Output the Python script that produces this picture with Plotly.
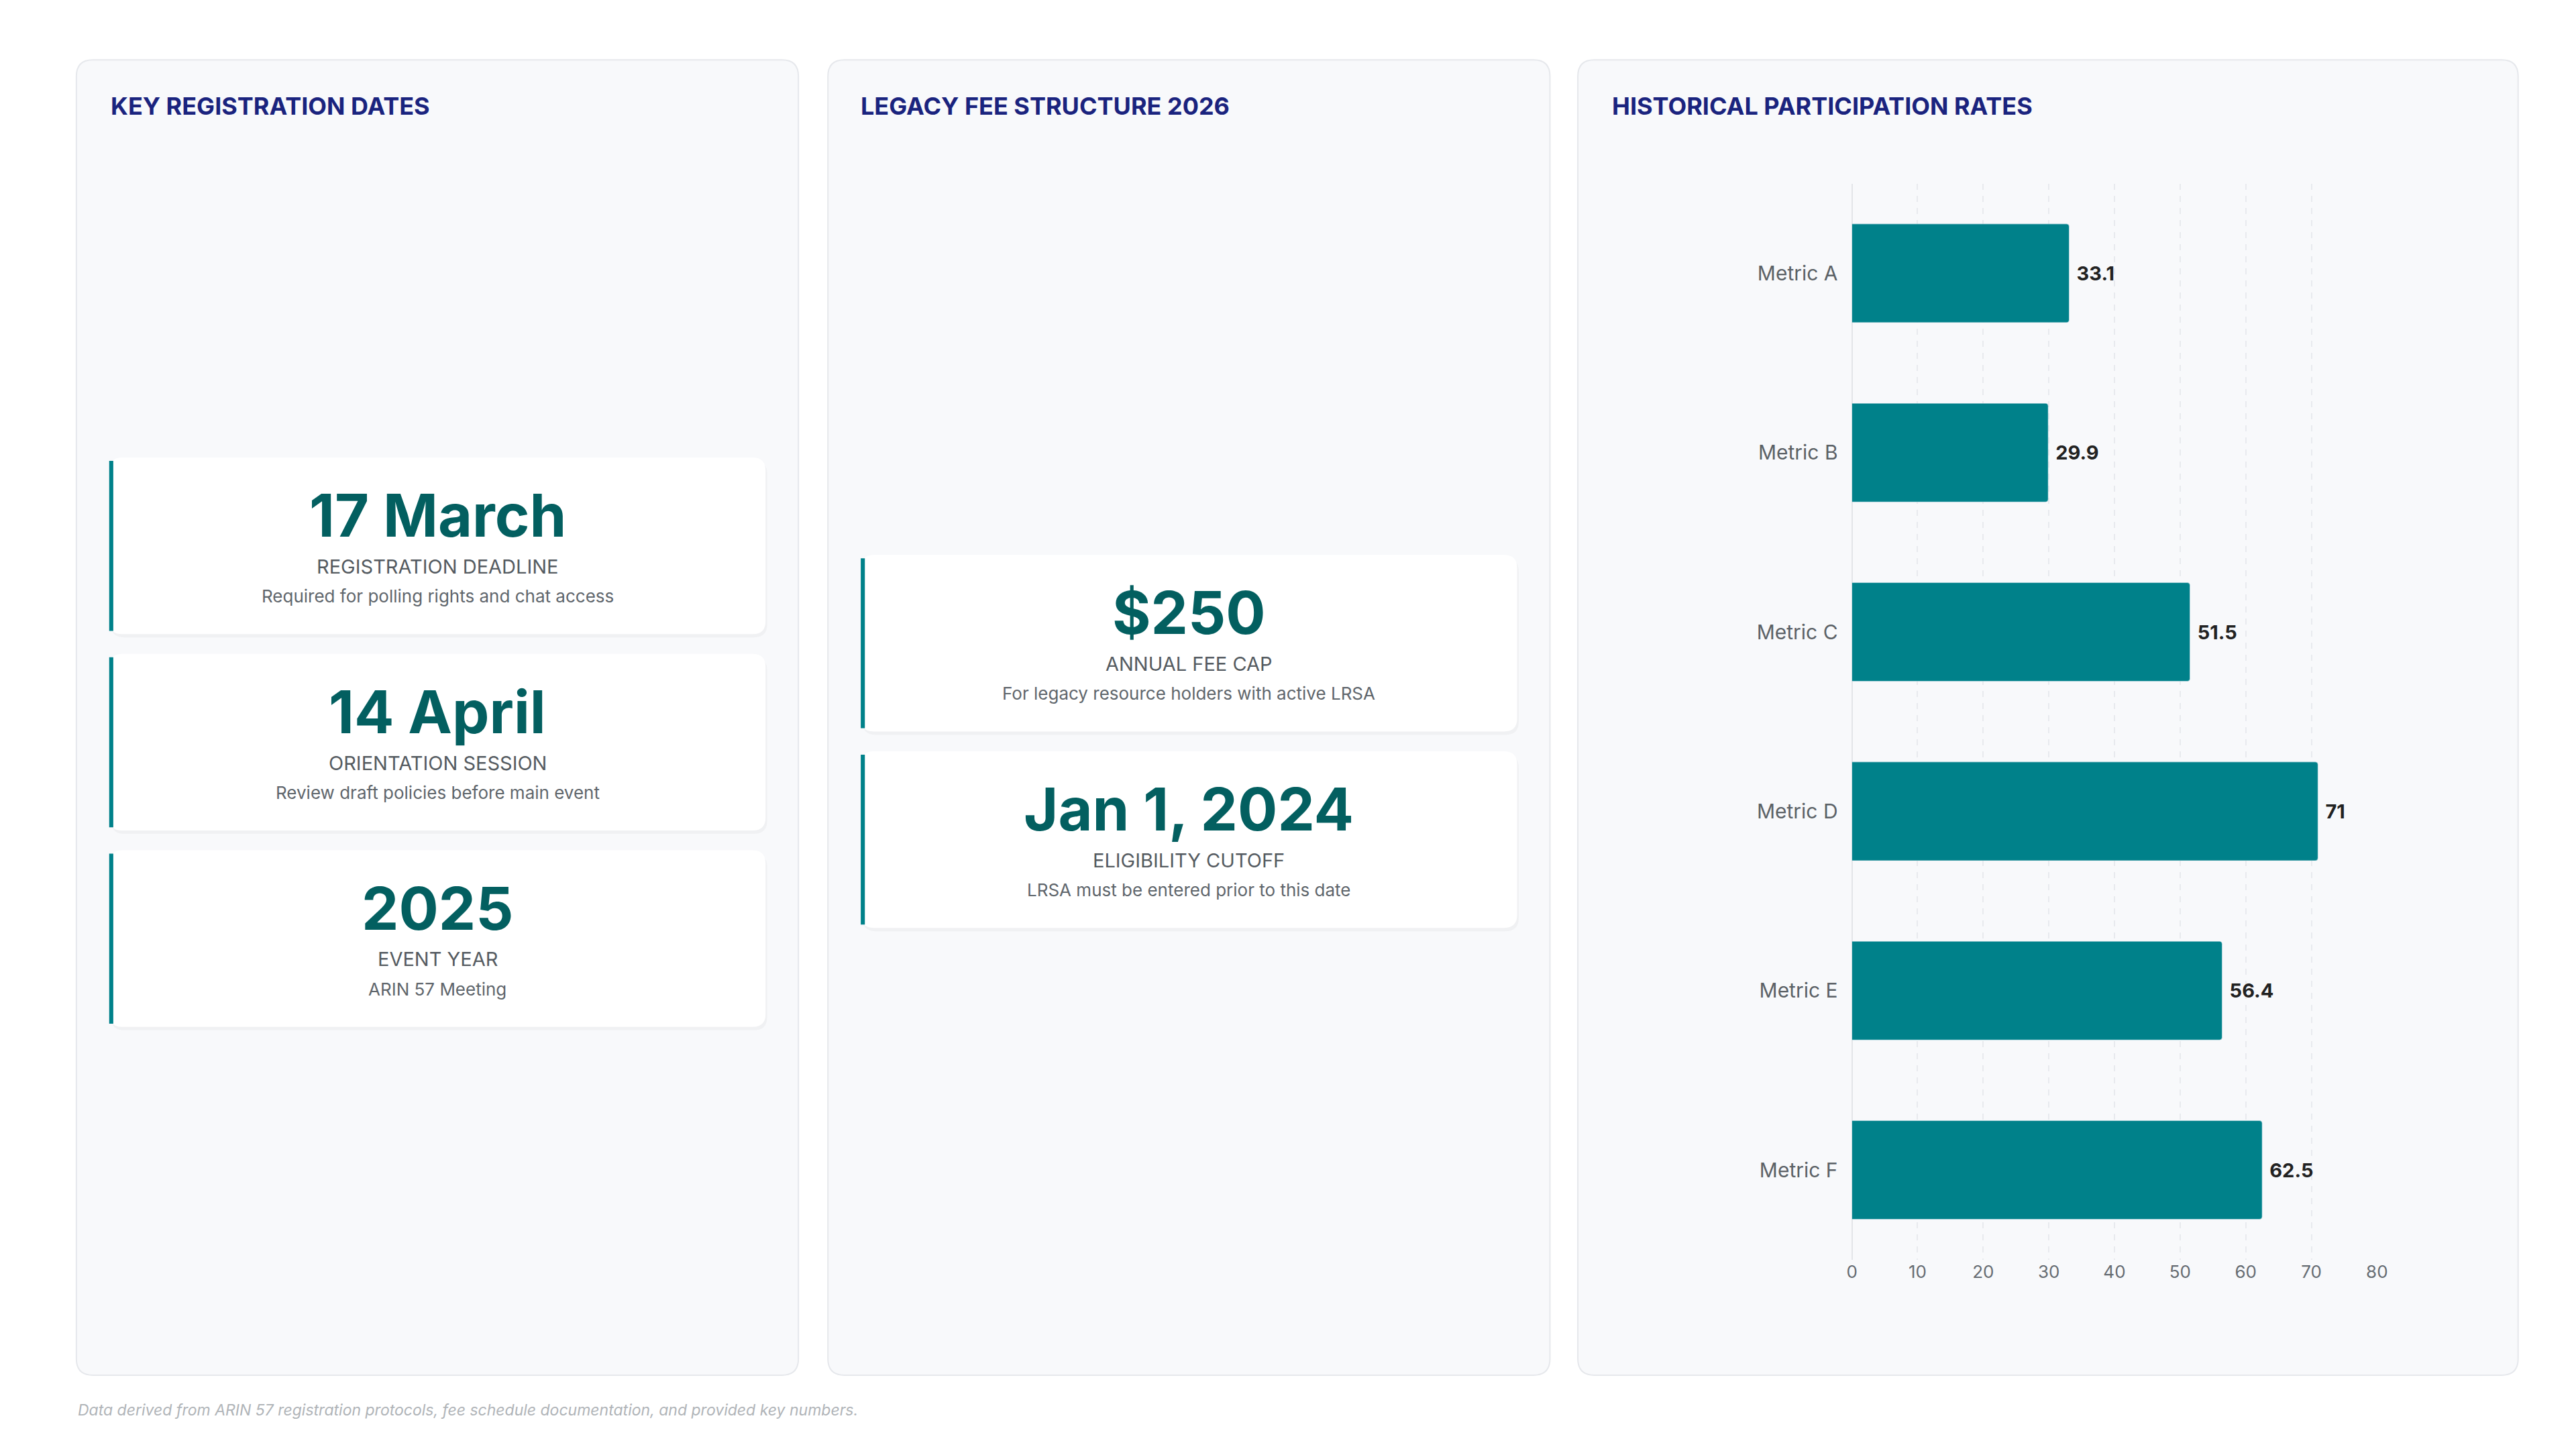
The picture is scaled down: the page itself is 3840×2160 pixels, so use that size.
import plotly.graph_objects as go

# ---- data
metrics = ["Metric A", "Metric B", "Metric C", "Metric D", "Metric E", "Metric F"]
rates = [33.1, 29.9, 51.5, 71, 56.4, 62.5]
x_ticks = [0, 10, 20, 30, 40, 50, 60, 70, 80]

date_values = ["17 March", "14 April", "2025"]
date_labels = ["REGISTRATION DEADLINE", "ORIENTATION SESSION", "EVENT YEAR"]
date_notes = ["Required for polling rights and chat access",
              "Review draft policies before main event",
              "ARIN 57 Meeting"]

fee_values = ["$250", "Jan 1, 2024"]
fee_labels = ["ANNUAL FEE CAP", "ELIGIBILITY CUTOFF"]
fee_notes = ["For legacy resource holders with active LRSA",
             "LRSA must be entered prior to this date"]

W, H = 1560, 878  # layout reference grid (scaled to 3840x2160)
TEAL = "#00818a"
DARK_TEAL = "#035f60"
NAVY = "#1a237e"
FONT = "Inter, Roboto, sans-serif"


def px(x):
    return x / W


def py(y):
    return 1 - y / H


def rounded(x0, y0, x1, y1, r):
    # rounded rect path in paper coords, inputs in grid px
    rx, ry = r / W, r / H
    a, b, c, d = px(x0), py(y1), px(x1), py(y0)
    return (f"M{a+rx},{b} L{c-rx},{b} Q{c},{b} {c},{b+ry} L{c},{d-ry} Q{c},{d} {c-rx},{d} "
            f"L{a+rx},{d} Q{a},{d} {a},{d-ry} L{a},{b+ry} Q{a},{b} {a+rx},{b} Z")


fig = go.Figure()
fig.add_trace(go.Bar(
    x=rates, y=metrics, orientation="h",
    marker=dict(color=TEAL, cornerradius=4),
    width=0.55,
    text=[f" <b>{v:g}</b>" for v in rates], textposition="outside",
    textfont=dict(size=29, color="#222", family=FONT),
    cliponaxis=False, showlegend=False,
))

shapes = []
annotations = []

# panels
for x0, x1 in [(40, 480), (498, 938), (955, 1528)]:
    shapes.append(dict(type="path", path=rounded(x0, 33, x1, 830, 10), xref="paper", yref="paper",
                       fillcolor="#f8f9fb", line=dict(color="#e6e8ec", width=2), layer="below"))

for x, t in [(60, "KEY REGISTRATION DATES"), (517, "LEGACY FEE STRUCTURE 2026"),
             (975, "HISTORICAL PARTICIPATION RATES")]:
    annotations.append(dict(text=f"<b>{t}</b>", x=px(x), y=py(61), xref="paper", yref="paper",
                            xanchor="left", yanchor="middle", showarrow=False,
                            font=dict(size=36, color=NAVY, family=FONT)))


def add_cards(x0, x1, tops, values, labels, notes):
    for top, v, lab, note in zip(tops, values, labels, notes):
        bot = top + 107
        shapes.append(dict(type="path", path=rounded(x0 + 1, top + 2, x1 + 1, bot + 2, 8),
                           xref="paper", yref="paper", fillcolor="rgba(0,0,0,0.03)",
                           line=dict(width=0), layer="below"))
        shapes.append(dict(type="path", path=rounded(x0, top, x1, bot, 8), xref="paper", yref="paper",
                           fillcolor="white", line=dict(width=0), layer="below"))
        shapes.append(dict(type="rect", x0=px(x0), x1=px(x0 + 2.5), y0=py(bot - 2), y1=py(top + 2),
                           xref="paper", yref="paper", fillcolor=TEAL, line=dict(width=0), layer="below"))
        cx = px((x0 + x1) / 2)
        annotations.append(dict(text=f"<b>{v}</b>", x=cx, y=py(top + 35), xref="paper", yref="paper",
                                showarrow=False, xanchor="center", yanchor="middle",
                                font=dict(size=88, color=DARK_TEAL, family=FONT)))
        annotations.append(dict(text=lab, x=cx, y=py(top + 66), xref="paper", yref="paper",
                                showarrow=False, xanchor="center", yanchor="middle",
                                font=dict(size=29, color="#555b61", family=FONT)))
        annotations.append(dict(text=note, x=cx, y=py(top + 84), xref="paper", yref="paper",
                                showarrow=False, xanchor="center", yanchor="middle",
                                font=dict(size=26, color="#5f666c", family=FONT)))


add_cards(60, 460, [274, 393, 512], date_values, date_labels, date_notes)
add_cards(518, 918, [333, 452], fee_values, fee_labels, fee_notes)

annotations.append(dict(
    text="<i>Data derived from ARIN 57 registration protocols, fee schedule documentation, and provided key numbers.</i>",
    x=px(40), y=py(851), xref="paper", yref="paper", xanchor="left", yanchor="middle",
    showarrow=False, font=dict(size=23, color="#b0b4b8", family=FONT)))

fig.update_layout(
    width=3840, height=2160,
    margin=dict(l=0, r=0, t=0, b=0),
    paper_bgcolor="white", plot_bgcolor="rgba(0,0,0,0)",
    font=dict(family=FONT),
    shapes=shapes, annotations=annotations,
    xaxis=dict(domain=[px(1122), px(1442)], range=[0, 80], tickvals=x_ticks,
               showgrid=True, gridcolor="#e8eaee", griddash="dash", gridwidth=2,
               zeroline=True, zerolinecolor="#e3e5e8", zerolinewidth=2,
               tickfont=dict(size=26, color="#666c72"), ticks="", showline=False),
    yaxis=dict(domain=[py(760), py(108)], autorange="reversed",
               tickfont=dict(size=30, color="#5b6166"), ticks="outside", ticklen=14,
               tickcolor="rgba(0,0,0,0)", showgrid=False, showline=False),
)

fig.write_html("out.html")
